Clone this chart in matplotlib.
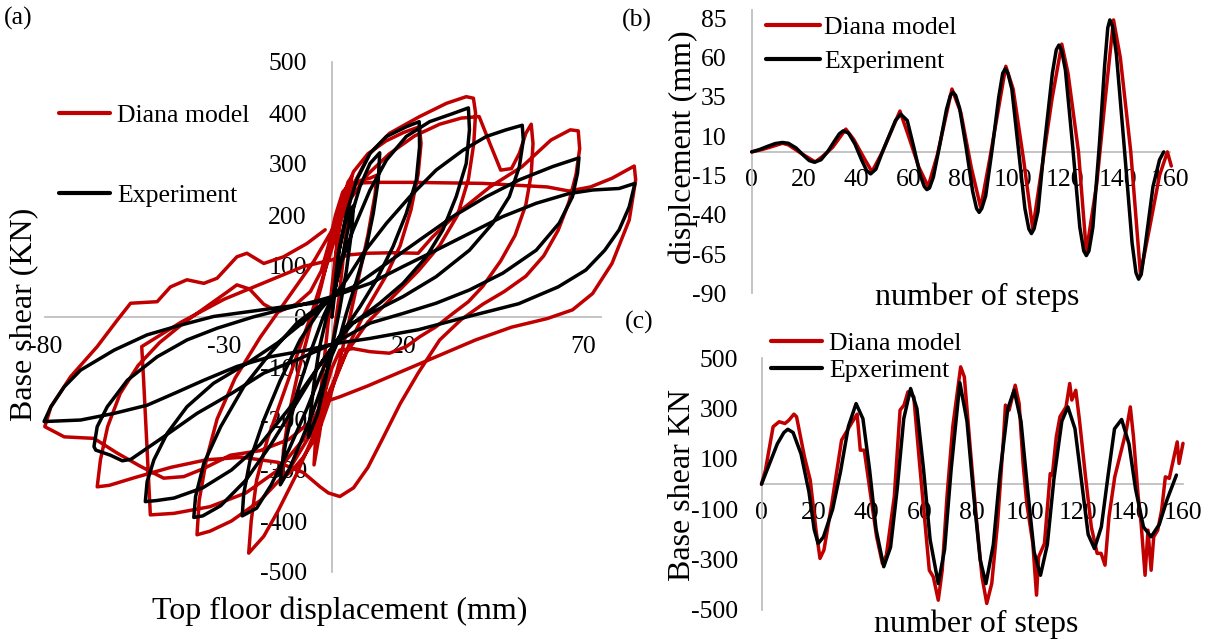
import matplotlib
matplotlib.use("Agg")
import matplotlib.pyplot as plt

plt.rcParams['font.family'] = ['Liberation Serif', 'DejaVu Serif']
plt.rcParams['axes.unicode_minus'] = False

RED = '#C00000'
BLACK = '#000000'
GRID = '#BFBFBF'

# ---------------- Panel (a): hysteresis (displacement mm, base shear kN) ----------------
model_loop = [
    (0, 0), (0.5, 60), (1.5, 150), (3, 230), (4.5, 265), (5.5, 275),
    (5, 230), (3.5, 140), (2, 40), (0, -60), (-2, -150), (-3.5, -230), (-5, -290),
    (-4.5, -230), (-3, -140), (-1.5, -40), (0, 60), (1.5, 150), (3, 210), (5, 250), (8, 268), (10.5, 272), (12.5, 278),
    (12, 240), (10, 160), (7.5, 80), (5, 0), (2, -90), (-1, -170), (-4, -230), (-8, -275), (-11, -300), (-14, -318),
    (-13.5, -260), (-12, -190), (-9.5, -110), (-6.5, -30), (-3, 60), (0, 150), (3, 230), (6, 285), (10, 320), (15, 345), (20, 362), (24.4, 373),
    (24.8, 340), (24, 280), (22, 210), (19, 140), (15, 80), (10, 20), (5, -50), (0, -140), (-5, -230), (-10, -310), (-15, -380), (-19, -430), (-23.2, -463),
    (-22.5, -400), (-21, -320), (-18, -240), (-14, -160), (-10, -80), (-6, 0), (-2, 90), (2, 180), (6, 260), (10.6, 321), (16, 360), (24.4, 393), (31.9, 419), (37.4, 432), (39.4, 429),
    (40, 400), (39.5, 340), (38, 270), (35, 200), (30, 140), (24, 90), (17, 40), (10, -10), (4, -70), (-1, -150), (-6, -230), (-12, -300), (-20, -360), (-28, -400), (-34, -420), (-37.6, -427),
    (-37, -360), (-35, -280), (-32, -200), (-27, -120), (-20, -40), (-12, 40), (-5, 110), (0, 170), (5, 230), (10, 280), (16, 320), (23, 355), (30, 378), (36, 390), (41, 393), (44, 340), (47, 288), (50, 291), (52.2, 321), (54, 360), (55.5, 378),
    (56, 340), (55.5, 280), (54, 220), (51, 160), (47, 110), (42, 60), (38, 30), (33.7, 7), (29, -19), (24.4, -39), (20.7, -58), (16, -71), (10.6, -68), (5.9, -62), (2.2, -65), (0, -100), (-3, -170), (-8, -240), (-15, -300), (-24, -345), (-34, -372), (-44, -385), (-50.6, -388),
    (-51, -330), (-51.5, -260), (-52, -190), (-52.5, -120), (-53, -58), (-42, -10), (-30, 35), (-18, 70), (-8, 99), (0, 112), (5, 122), (10, 125), (17, 126), (24, 125), (28, 157), (35, 204), (44, 255), (53, 295), (61, 347), (66.4, 367), (68.6, 365),
    (69, 330), (68, 280), (66, 225), (63, 170), (59, 120), (54, 80), (48, 50), (42, 25), (36, -5), (30, -45), (24, -110), (19, -170), (14, -240), (10, -295), (6, -335), (2.2, -352), (-1, -345), (-3.3, -333), (-8, -305), (-15, -285), (-25, -275), (-35, -280), (-45, -295), (-55, -315), (-62, -330), (-65.4, -333),
    (-64.5, -280), (-62.5, -215), (-59, -150), (-54, -95), (-48, -50), (-41, -10), (-34, 25), (-29, 50), (-26.5, 63), (-23, 55), (-19, 25), (-15, 10), (-10, 25), (-6, 50), (-3, 90), (-1, 140), (1, 200), (3, 245), (5, 262), (12, 264), (22, 264), (32, 263), (42, 262), (52, 258), (60, 255), (66, 247), (72, 255), (78, 272), (84.2, 296),
    (84.6, 269), (82.8, 190), (78, 105), (72.6, 46), (67, 14), (60, -3), (50, -20), (40, -45), (30, -75), (20, -105), (10, -135), (2, -157), (-0.6, -163), (-5, -200), (-12, -240), (-20, -262), (-28.3, -271), (-35.7, -297), (-41.3, -313), (-46.9, -316), (-53.3, -293), (-59.8, -267), (-66.3, -238), (-74.6, -235), (-80, -215),
    (-78.3, -176), (-72.8, -117), (-65.4, -58), (-59.8, -6), (-56.1, 27), (-48.7, 30), (-45, 59), (-40.4, 73), (-35.7, 66), (-32, 76), (-26.5, 118), (-23.7, 125), (-19, 105), (-13.5, 118), (-7, 144), (-1.9, 171),
]

exp_loop = [
    (0, 0), (1, 60), (2, 130), (3.5, 180), (5, 210), (6, 218),
    (5.5, 170), (4, 90), (2, 10), (0, -60), (-2, -130), (-4, -190), (-6.6, -236),
    (-6, -190), (-5, -130), (-3.5, -60), (-1.5, 0), (0.5, 45), (2, 90), (3.1, 125), (5, 190), (7.8, 256), (10.6, 301), (13.3, 322),
    (12.9, 269), (11.5, 203), (9.6, 138), (6.9, 73), (4, 7), (2.2, -39), (0, -75), (-2.5, -130), (-5.5, -190), (-9, -250), (-12, -300), (-14.4, -329),
    (-14, -293), (-12.6, -235), (-9.8, -150), (-6.1, -71), (-2.4, 1), (0.5, 45), (1.8, 125), (4, 203), (6.9, 269), (10.6, 321), (15.2, 354), (20.7, 373), (24.3, 383),
    (24.4, 334), (23.5, 269), (20.7, 203), (17, 138), (12.4, 73), (7.8, 20), (4, -19), (1, -50), (-3, -110), (-7, -180), (-12, -260), (-17, -330), (-21, -375), (-25, -390),
    (-24.6, -347), (-22.8, -280), (-19, -202), (-14.4, -124), (-8.9, -45), (-3.3, 14), (0.5, 45), (2.2, 99), (5.9, 171), (10.6, 249), (15.2, 308), (20.7, 354), (27.2, 383), (33.7, 399), (38, 410),
    (38.3, 367), (37.4, 301), (34.6, 236), (30.9, 171), (26.3, 118), (19.8, 66), (13.3, 27), (5.9, -12), (1, -50), (-4, -100), (-10, -170), (-17, -250), (-24, -320), (-31, -370), (-36, -390), (-38.5, -393),
    (-38, -352), (-35.7, -287), (-31, -215), (-24.6, -137), (-17.2, -71), (-9.8, -12), (-2.4, 27), (1, 45), (4, 73), (8.7, 125), (15.2, 184), (21.7, 236), (29, 288), (36.5, 327), (43, 354), (48.5, 367), (53, 376),
    (53.3, 347), (52.2, 295), (49.4, 236), (44.8, 184), (38.3, 131), (29, 79), (19.8, 40), (10.6, 7), (4, -19), (1, -50), (-5, -110), (-12, -180), (-20, -250), (-28, -300), (-36, -335), (-44, -355), (-49, -360), (-52, -362),
    (-51.5, -323), (-49.6, -280), (-45.9, -228), (-40.4, -176), (-33, -130), (-23.7, -91), (-15, -50), (-8, -10), (-3, 20), (1, 45), (5.9, 59), (15.2, 105), (24.4, 151), (33.7, 197), (43, 236), (52.2, 269), (61.5, 295), (68.8, 312),
    (68.4, 282), (67, 236), (63.3, 184), (56.9, 131), (47.6, 86), (38.3, 53), (29, 27), (19.8, 7), (10.6, -12), (1, -50), (-9.8, -84), (-19, -110), (-28, -150), (-37.6, -189), (-46.9, -235), (-56, -279), (-58.4, -282), (-61.7, -271), (-65.8, -261), (-66.3, -254),
    (-65.4, -215), (-62.6, -176), (-57, -124), (-48.7, -78), (-40.4, -45), (-32, -22), (-22, 0), (-12, 18), (-4, 32), (1, 42), (5, 52), (10.6, 66), (19.8, 99), (29, 131), (38.3, 164), (47.6, 197), (56.9, 223), (66, 242), (72.6, 249), (80, 252), (84.4, 262),
    (82.8, 216), (80, 171), (76, 131), (70.7, 92), (63, 59), (52, 26), (38, 1), (24, -25), (10.6, -42), (1, -52), (-7, -65), (-17.2, -78), (-26.5, -97), (-35.7, -124), (-44, -150), (-51.5, -173), (-60.7, -189), (-70, -202), (-80.2, -205),
    (-78.3, -176), (-74.6, -137), (-70, -104), (-60.7, -65), (-51.5, -35), (-42.2, -16), (-33, 1), (-23.7, 10), (-14.4, 19), (-5.2, 27), (0, 36),
]
a_xticks = [-80, -30, 20, 70]
a_yticks = [-500, -400, -300, -200, -100, 0, 100, 200, 300, 400, 500]

# ---------------- Panel (b): displacement vs steps ----------------
disp_model = [
    (0, 0), (4, 1.5), (8, 3.5), (11.8, 5.5), (14, 4.5), (19, -1), (24.3, -6.4), (27, -3), (31, 3), (36, 14.5),
    (39, 8), (43, -4), (46, -12.6), (50, 0), (56.7, 26), (60, 10), (64, -10), (67.5, -22), (71, -2), (76.6, 40),
    (80, 25), (84, -10), (87.6, -35.5), (91, -5), (97.2, 54.5), (100, 40), (104, -5), (107.5, -49), (111, -10),
    (114.9, 34), (118.6, 68.6), (121, 50), (125, 0), (128, -63.6), (132, -20), (135, 30), (138.4, 84), (141, 60),
    (145, 0), (148.7, -78), (152, -50), (156, -15), (159, 0), (160.5, -9),
]
disp_exp = [
    (0, 0), (3, 1.5), (6, 3.5), (9, 5.3), (11.7, 6), (14, 5.5), (17, 2.5), (20, -2.5), (22, -5.5), (24, -6.6),
    (26.5, -5), (29, 0), (31.5, 6.5), (33.5, 11.5), (35, 13.4), (37, 12), (39.5, 5), (42, -5), (44, -12), (45.5, -14),
    (47.5, -11), (50, 0), (53, 12), (55, 20), (57, 24), (59.5, 20), (62, 3), (64.5, -15), (66, -22), (67, -24), (68, -23),
    (69.5, -16), (72, 5), (74.5, 27), (76, 36), (77, 38), (78, 36), (79.5, 28), (82, 3), (84.5, -25), (86, -36), (87, -38.5),
    (88, -36), (89.5, -28), (92, 2), (94.5, 35), (96, 50), (97, 53), (98, 50), (99.5, 40), (102, 2), (104.5, -36), (106, -49),
    (107, -52), (108, -49), (109.5, -38), (112, 5), (115, 50), (116.5, 65), (117.5, 68), (118.5, 65), (120, 52), (122.8, 3),
    (125.5, -48), (127, -63), (128, -66), (129, -63), (130.5, -48), (133, 5), (135, 55), (136.2, 79), (137, 84), (138, 80),
    (139.5, 62), (142.5, 3), (145.5, -58), (147, -77), (148, -81), (149, -78), (150.5, -60), (153.5, -22), (156, -5), (157.6, 0),
]
b_xticks = [0, 20, 40, 60, 80, 100, 120, 140, 160]
b_yticks = [-90, -65, -40, -15, 10, 35, 60, 85]

# ---------------- Panel (c): base shear vs steps ----------------
shear_model = [
    (0, 0), (1.5, 56), (4.4, 228), (6.7, 248), (8.9, 241), (10.4, 254), (12.3, 278), (13.3, 268), (16.3, 109),
    (18.5, 16), (20.7, -183), (22.2, -295), (23.7, -262), (26.7, -77), (30.4, 175), (34.1, 241), (36.3, 278),
    (37.5, 135), (39, 135), (41.5, -50), (43.7, -209), (45.9, -315), (47.4, -282), (50.4, -50), (52.6, 294),
    (54.1, 314), (55.6, 367), (57.8, 347), (60, 82), (62.2, -170), (63.7, -342), (65.2, -368), (67.1, -461),
    (68.6, -342), (70.4, -50), (72.6, 228), (74.1, 347), (75.6, 466), (77, 426), (79.3, 135), (81.5, -130),
    (83.7, -368), (85.5, -474), (87.4, -395), (89.6, -156), (91.9, 188), (92.6, 314), (94, 294), (96.3, 393),
    (97.8, 320), (99.3, 82), (100.7, -77), (103, -236), (104.4, -441), (105.2, -289), (107.4, -236), (109.6, 42),
    (110.4, 36), (111.9, 188), (113.3, 268), (115.6, 307), (117, 400), (117.8, 334), (119.3, 373), (120.7, 254),
    (123, 29), (125.2, -170), (127.4, -275), (128.9, -275), (130.4, -322), (131.9, -130), (134.1, 29), (136.3, 122),
    (138.5, 215), (140, 307), (141.2, 188), (143, -50), (144.1, -156), (145.6, -362), (146.7, -183), (147.9, -342),
    (148.9, -209), (150.4, -183), (151.9, -103), (153.3, 29), (154.8, 23), (156.3, 95), (157.8, 168), (158.5, 82), (160, 162),
]
shear_exp = [
    (0, 0), (3, 80), (6, 160), (8.5, 205), (10, 218), (12, 205), (15, 120), (18, -30), (20, -180), (21.5, -236),
    (23.5, -210), (27, -100), (30, 50), (33, 230), (35.9, 320), (38.5, 260), (41, 60), (43.5, -180), (46.4, -328),
    (49, -250), (51.5, -20), (54, 260), (56.6, 380), (59, 300), (61.5, 60), (64, -220), (67.1, -395), (69.5, -260),
    (72, 60), (75.3, 403), (78, 250), (80.5, -40), (83, -300), (85.2, -395), (88, -240), (90.5, 40), (93.5, 300),
    (95.9, 373), (98.5, 250), (101, -20), (103.5, -270), (105.9, -362), (108.5, -240), (111, 20), (114, 250),
    (116.3, 307), (119, 220), (121.5, 10), (124, -200), (126.4, -256), (129, -170), (131.5, 30), (134, 220),
    (136.7, 257), (139.5, 160), (142, -20), (145, -170), (147.9, -209), (151, -160), (154, -60), (157.5, 36),
]
c_xticks = [0, 20, 40, 60, 80, 100, 120, 140, 160]
c_yticks = [-500, -300, -100, 100, 300, 500]

W, H = 1211, 642
fig = plt.figure(figsize=(W / 100, H / 100), dpi=100)

TICK_FS = 18.5
LAB_FS = 23
LW = 2.5


def px_rect(x0, y0, x1, y1):
    return [x0 / W, 1 - y1 / H, (x1 - x0) / W, (y1 - y0) / H]


def style_axes(ax):
    for s in ('top', 'right'):
        ax.spines[s].set_visible(False)
    for s in ('left', 'bottom'):
        ax.spines[s].set_color(GRID)
        ax.spines[s].set_linewidth(1.3)
    ax.set_facecolor('none')


def plot_xy(ax, pts, color, z):
    xs = [p[0] for p in pts]
    ys = [p[1] for p in pts]
    ax.plot(xs, ys, color=color, lw=LW, solid_joinstyle='round', solid_capstyle='round',
            clip_on=False, zorder=z)


# ---- (a)
axA = fig.add_axes(px_rect(44.8, 62, 640.7, 572))
style_axes(axA)
plot_xy(axA, model_loop, RED, 3)
plot_xy(axA, exp_loop, BLACK, 4)
axA.set_xlim(-80, 86)
axA.set_ylim(-500, 500)
axA.spines['left'].set_position(('data', 0))
axA.spines['bottom'].set_position(('data', 0))
axA.spines['bottom'].set_bounds(-80, 75)
axA.set_xticks(a_xticks)
axA.set_yticks(a_yticks)
axA.tick_params(axis='x', length=0, pad=14, labelsize=TICK_FS)
axA.tick_params(axis='y', length=0, pad=18, labelsize=TICK_FS)
axA.legend(['Diana model', 'Experiment'], loc='upper left',
           bbox_to_anchor=(59 / W, 1 - 104 / H), bbox_transform=fig.transFigure,
           frameon=False, fontsize=TICK_FS, handlelength=2.0, handletextpad=0.25,
           labelspacing=2.23, borderpad=0, borderaxespad=0)
fig.text(340 / W, 1 - 611 / H, 'Top floor displacement (mm)', ha='center', va='center', fontsize=LAB_FS)
fig.text(24 / W, 1 - 314 / H, 'Base shear (KN)', ha='center', va='center', rotation=90, fontsize=LAB_FS)
fig.text(18 / W, 1 - 18 / H, '(a)', ha='center', va='center', fontsize=TICK_FS)

# ---- (b)
axB = fig.add_axes(px_rect(751.7, 10.5, 1170, 293.3))
style_axes(axB)
plot_xy(axB, disp_model, RED, 3)
plot_xy(axB, disp_exp, BLACK, 4)
axB.set_xlim(0, 160)
axB.set_ylim(-90, 90)
axB.spines['bottom'].set_position(('data', 0))
axB.set_xticks(b_xticks)
axB.set_yticks(b_yticks)
axB.tick_params(axis='x', length=0, pad=12, labelsize=TICK_FS)
axB.tick_params(axis='y', length=0, pad=18, labelsize=TICK_FS)
axB.legend(['Diana model', 'Experiment'], loc='upper left',
           bbox_to_anchor=(766 / W, 1 - 16 / H), bbox_transform=fig.transFigure,
           frameon=False, fontsize=TICK_FS, handlelength=2.1, handletextpad=0.15,
           labelspacing=0.44, borderpad=0, borderaxespad=0)
fig.text(977 / W, 1 - 297 / H, 'number of steps', ha='center', va='center', fontsize=LAB_FS)
fig.text(683 / W, 1 - 147 / H, 'displcement (mm)', ha='center', va='center', rotation=90, fontsize=LAB_FS)
fig.text(637 / W, 1 - 20 / H, '(b)', ha='center', va='center', fontsize=TICK_FS)

# ---- (c)
axC = fig.add_axes(px_rect(761.5, 358.3, 1183, 610))
style_axes(axC)
plot_xy(axC, shear_model, RED, 3)
plot_xy(axC, shear_exp, BLACK, 4)
axC.set_xlim(0, 160)
axC.set_ylim(-500, 500)
axC.spines['bottom'].set_position(('data', 0))
axC.set_xticks(c_xticks)
axC.set_yticks(c_yticks)
axC.tick_params(axis='x', length=0, pad=13, labelsize=TICK_FS)
axC.tick_params(axis='y', length=0, pad=17, labelsize=TICK_FS)
axC.legend(['Diana model', 'Epxeriment'], loc='upper left',
           bbox_to_anchor=(771 / W, 1 - 332 / H), bbox_transform=fig.transFigure,
           frameon=False, fontsize=TICK_FS, handlelength=2.0, handletextpad=0.25,
           labelspacing=0.14, borderpad=0, borderaxespad=0)
fig.text(976 / W, 1 - 624 / H, 'number of steps', ha='center', va='center', fontsize=LAB_FS)
fig.text(682 / W, 1 - 485 / H, 'Base shear KN', ha='center', va='center', rotation=90, fontsize=LAB_FS)
fig.text(639 / W, 1 - 322 / H, '(c)', ha='center', va='center', fontsize=TICK_FS)

for ax in (axA, axB, axC):
    for lh in ax.get_legend().get_lines():
        lh.set_linewidth(3.0)

fig.savefig('out.png', dpi=100)
